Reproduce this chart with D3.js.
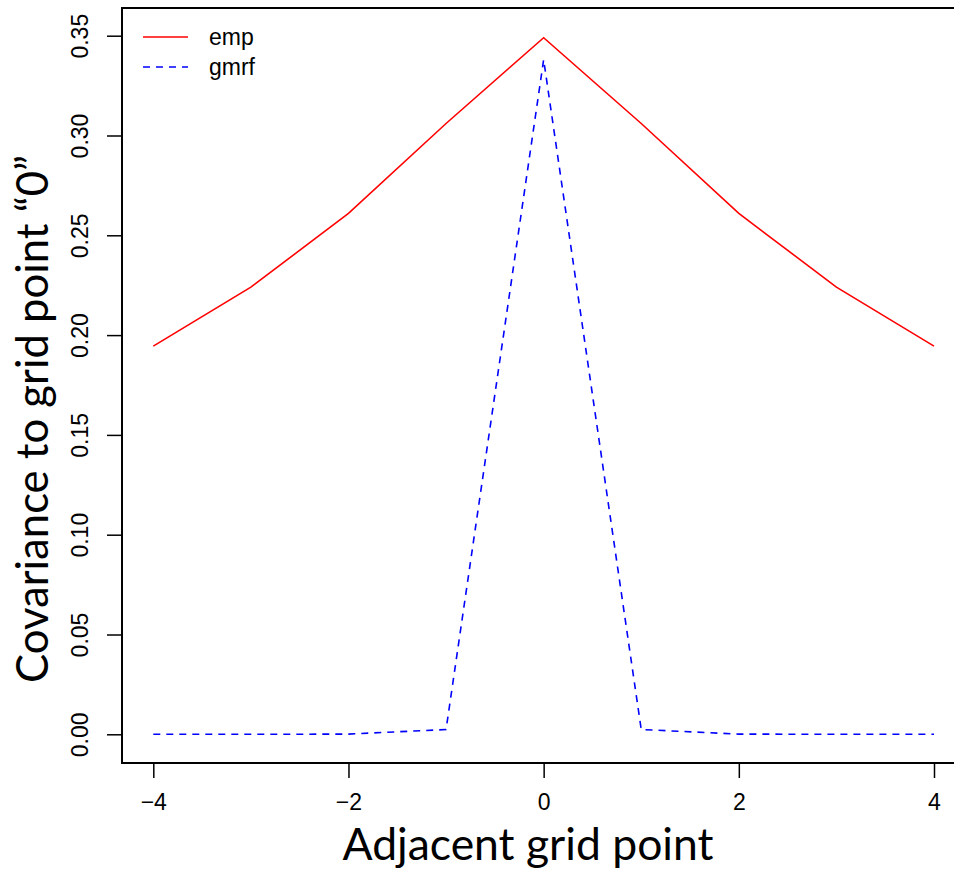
<!DOCTYPE html>
<meta charset="utf-8">
<style>
    body { margin: 0; background: #fff; }
    .tick text { font: 23px "Liberation Sans", Arial, sans-serif; fill: #000; }
    .legend text { font: 23px "Liberation Sans", Arial, sans-serif; }
    .title { font-family: Lato, "Open Sans", sans-serif; fill: #000; }
</style>
<body>
<script src="https://d3js.org/d3.v7.min.js"></script>
<script>
    // Data
    var lags = [-4, -3, -2, -1, 0, 1, 2, 3, 4];
    var emp = [0.1945, 0.224, 0.261, 0.306, 0.349, 0.306, 0.261, 0.224, 0.1945];
    var gmrf = [0, 0, 0.0001, 0.0024, 0.338, 0.0024, 0.0001, 0, 0];
    var xTicks = [-4, -2, 0, 2, 4];
    var yTicks = [0, 0.05, 0.1, 0.15, 0.2, 0.25, 0.3, 0.35];
    var seriesNames = ["emp", "gmrf"];

    var width = 954, height = 870;
    // right edge of the frame sits just past the picture, as in the original
    var box = { left: 122, top: 8, right: 957, bottom: 763 };

    var svg = d3.select("body").append("svg")
        .attr("width", width)
        .attr("height", height);

    // scales fitted so -4..4 and 0..0.35 land where the ticks are
    var x = d3.scaleLinear().domain([-4, 4]).range([153.3, 934]);
    var y = d3.scaleLinear().domain([0, 0.35]).range([734.3, 35.7]);

    // x axis
    svg.append("g")
        .attr("transform", "translate(0," + box.bottom + ")")
        .call(d3.axisBottom(x).tickValues(xTicks).tickSize(15).tickPadding(16)
            .tickFormat(d => d < 0 ? "\u2212" + Math.abs(d) : d))
        .call(g => g.select(".domain").remove())
        .call(g => g.selectAll("line").attr("stroke", "#000").attr("stroke-width", 1.5));

    // y axis, labels rotated like R's default
    var yAxis = svg.append("g")
        .attr("transform", "translate(" + box.left + ",0)")
        .call(d3.axisLeft(y).tickValues(yTicks).tickSize(15).tickFormat(d3.format(".2f")))
        .call(g => g.select(".domain").remove())
        .call(g => g.selectAll("line").attr("stroke", "#000").attr("stroke-width", 1.5));
    yAxis.selectAll(".tick text")
        .attr("x", null).attr("dy", null)
        .attr("text-anchor", "middle")
        .attr("transform", "translate(-34,0) rotate(-90)");

    // plot frame
    svg.append("rect")
        .attr("x", box.left).attr("y", box.top)
        .attr("width", box.right - box.left).attr("height", box.bottom - box.top)
        .attr("fill", "none").attr("stroke", "#000").attr("stroke-width", 2);

    var line = d3.line().x((d, i) => x(lags[i])).y(d => y(d));

    svg.append("path").datum(emp)
        .attr("d", line).attr("fill", "none")
        .attr("stroke", "#ff0000").attr("stroke-width", 1.6);

    svg.append("path").datum(gmrf)
        .attr("d", line).attr("fill", "none")
        .attr("stroke", "#0000ff").attr("stroke-width", 1.6)
        .attr("stroke-dasharray", "7,6");

    // legend
    var legend = svg.append("g").attr("class", "legend");
    var colors = ["#ff0000", "#0000ff"];
    seriesNames.forEach(function (name, i) {
        var ly = 37 + i * 30;
        legend.append("line")
            .attr("x1", 143).attr("x2", 188).attr("y1", ly).attr("y2", ly)
            .attr("stroke", colors[i]).attr("stroke-width", 1.6)
            .attr("stroke-dasharray", i == 1 ? "7,6" : null);
        legend.append("text")
            .attr("x", 209).attr("y", ly).attr("dy", "0.35em")
            .text(name);
    });

    // axis titles, sized to match the picture's widths
    function fitTitle(t, target) {
        t.attr("font-size", 40);
        var w = t.node().getComputedTextLength();
        t.attr("font-size", 40 * target / w);
    }
    var xt = svg.append("text").attr("class", "title")
        .attr("x", 528).attr("y", 860).attr("text-anchor", "middle")
        .text("Adjacent grid point");
    fitTitle(xt, 371);

    var yt = svg.append("text").attr("class", "title")
        .attr("transform", "translate(48,419) rotate(-90)")
        .attr("text-anchor", "middle")
        .text("Covariance to grid point \u201C0\u201D");
    fitTitle(yt, 528);
</script>
</body>
